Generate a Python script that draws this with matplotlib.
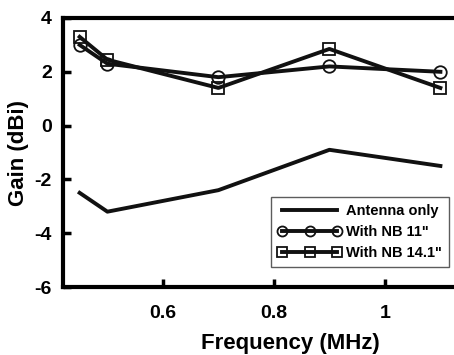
import matplotlib
matplotlib.use("Agg")
import matplotlib.pyplot as plt

freq = [0.45, 0.5, 0.7, 0.9, 1.1]
antenna_only = [-2.5, -3.2, -2.4, -0.9, -1.5]
nb_11 = [3.0, 2.3, 1.8, 2.2, 2.0]
nb_141 = [3.3, 2.45, 1.4, 2.85, 1.4]

plt.rcParams['font.family'] = ['Liberation Sans', 'DejaVu Sans']
plt.rcParams['font.weight'] = 'bold'
plt.rcParams['axes.unicode_minus'] = False

fig = plt.figure(figsize=(4.54, 3.55), dpi=100)
ax = fig.add_axes([63 / 454, 1 - 287 / 355, 1.0, (287 - 18) / 355])

ax.plot(freq, antenna_only, color='#111111', lw=2.8, label='Antenna only')
ax.plot(freq, nb_11, color='#111111', lw=2.8, marker='o', ms=9, mfc='none',
        mec='#111111', mew=1.3, label='With NB 11"')
ax.plot(freq, nb_141, color='#111111', lw=2.8, marker='s', ms=9, mfc='none',
        mec='#111111', mew=1.3, label='With NB 14.1"')

ax.set_xlim(0.42, 0.42 + 1.0 * 454 / 555)
ax.set_ylim(-6, 4)
ax.set_xticks([0.6, 0.8, 1.0])
ax.set_xticklabels(['0.6', '0.8', '1'])
ax.set_yticks([-6, -4, -2, 0, 2, 4])
ax.tick_params(direction='in', length=6, width=2.5, labelsize=14, pad=8)
ax.tick_params(axis='x', pad=13)
for lab in ax.get_xticklabels() + ax.get_yticklabels():
    lab.set_fontweight('heavy')
for s in ['left', 'bottom', 'top']:
    ax.spines[s].set_linewidth(3)
ax.spines['right'].set_visible(False)

ax.set_xlabel('Frequency (MHz)', fontsize=16, fontweight='bold', labelpad=8)
ax.set_ylabel('Gain (dBi)', fontsize=16, fontweight='bold', labelpad=4)

leg = ax.legend(loc='lower left', bbox_to_anchor=(271 / 454, 1 - 267 / 355),
                bbox_transform=fig.transFigure, numpoints=3, fontsize=10.5,
                markerscale=0.8, frameon=True, fancybox=False,
                edgecolor='#333333', handlelength=4.4, handletextpad=0.3,
                borderpad=0.45, labelspacing=0.5, borderaxespad=0)
leg.get_frame().set_linewidth(1)
for t in leg.get_texts():
    t.set_fontweight('bold')

fig.savefig('out.png', dpi=100)
